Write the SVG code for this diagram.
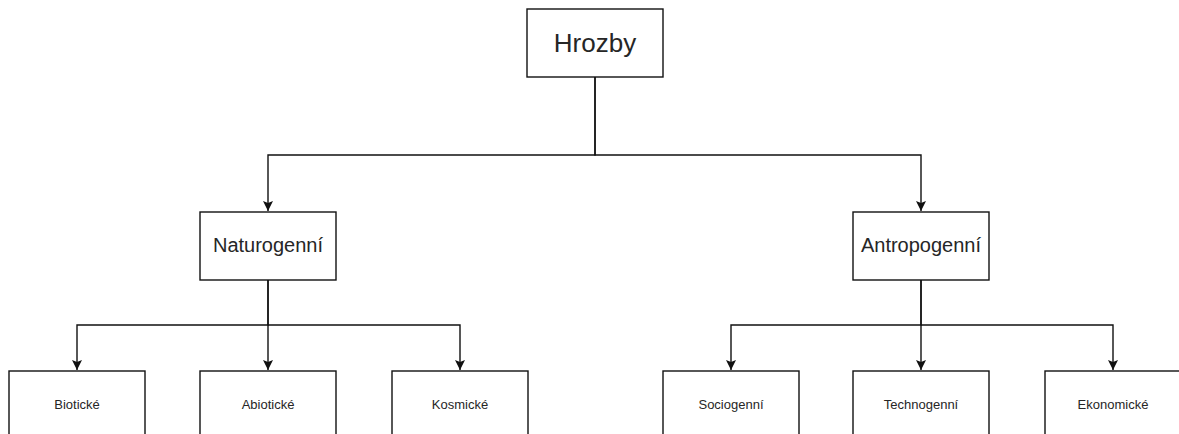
<svg xmlns="http://www.w3.org/2000/svg" width="1179" height="434" viewBox="0 0 1179 434">
<style>
.box{fill:#fff;stroke:#111;stroke-width:1.4}
.t{font-family:"Liberation Sans",Arial,sans-serif;fill:#262626;text-anchor:middle}
.conn{fill:none;stroke:#111;stroke-width:1.4}
</style>
<defs>
<marker id="arr" markerUnits="userSpaceOnUse" markerWidth="12" markerHeight="12" viewBox="0 0 12 12" refX="11" refY="6" orient="auto">
<path d="M1,1 L11,6 L1,11 L3,6 Z" fill="#111"/>
</marker>
</defs>
<rect width="1179" height="434" fill="#fff"/>
<g id="connectors">
<path class="conn" d="M595,77 V155 H268 V211" marker-end="url(#arr)"/>
<path class="conn" d="M595,77 V155 H921 V211" marker-end="url(#arr)"/>
<path class="conn" d="M268,280 V325 H77 V370" marker-end="url(#arr)"/>
<path class="conn" d="M268,280 V370" marker-end="url(#arr)"/>
<path class="conn" d="M268,325 H460 V370" marker-end="url(#arr)"/>
<path class="conn" d="M921,280 V325 H731 V370" marker-end="url(#arr)"/>
<path class="conn" d="M921,280 V370" marker-end="url(#arr)"/>
<path class="conn" d="M921,325 H1113 V370" marker-end="url(#arr)"/>
</g>
<g id="hrozby"><rect class="box" x="527" y="9" width="136" height="68"/><text class="t" x="595" y="52" font-size="26">Hrozby</text></g>
<g id="naturogenni"><rect class="box" x="200" y="212" width="136" height="68"/><text class="t" x="268" y="252" font-size="20">Naturogenní</text></g>
<g id="antropogenni"><rect class="box" x="853" y="212" width="136" height="68"/><text class="t" x="921" y="252" font-size="20">Antropogenní</text></g>
<g id="bioticke"><rect class="box" x="9" y="371" width="136" height="68"/><text class="t" x="77" y="409" font-size="13">Biotické</text></g>
<g id="abioticke"><rect class="box" x="200" y="371" width="136" height="68"/><text class="t" x="268" y="409" font-size="13">Abiotické</text></g>
<g id="kosmicke"><rect class="box" x="392" y="371" width="136" height="68"/><text class="t" x="460" y="409" font-size="13">Kosmické</text></g>
<g id="sociogenni"><rect class="box" x="663" y="371" width="136" height="68"/><text class="t" x="731" y="409" font-size="13">Sociogenní</text></g>
<g id="technogenni"><rect class="box" x="853" y="371" width="136" height="68"/><text class="t" x="921" y="409" font-size="13">Technogenní</text></g>
<g id="ekonomicke"><rect class="box" x="1045" y="371" width="136" height="68"/><text class="t" x="1113" y="409" font-size="13">Ekonomické</text></g>
</svg>
